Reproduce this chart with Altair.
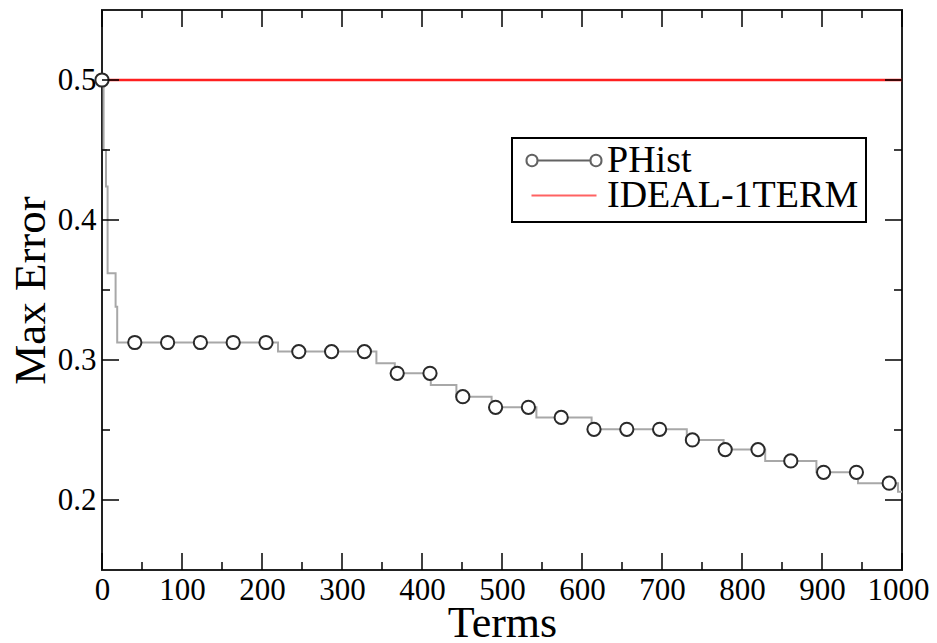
import altair as alt
import pandas as pd

FONT = "Liberation Serif"

# PHist step curve (change points, step-after)
step_terms = [0, 2, 5, 7, 17, 19, 220, 343, 366, 411, 443, 487, 543, 612, 731, 777, 829, 893, 945, 995, 1000]
step_values = [0.5, 0.45, 0.424, 0.362, 0.338, 0.3125, 0.306, 0.2976, 0.2905, 0.2821, 0.2738, 0.2662,
               0.259, 0.2505, 0.2429, 0.236, 0.2279, 0.2198, 0.212, 0.2059, 0.2059]

# PHist markers
marker_terms = [0, 41, 82, 123, 164, 205, 246, 287, 328, 369, 410, 451, 492, 533, 574, 615, 656, 697,
                738, 779, 820, 861, 902, 943, 984]
marker_values = [0.5, 0.3125, 0.3125, 0.3125, 0.3125, 0.3125, 0.306, 0.306, 0.306, 0.2905, 0.2905, 0.2738,
                 0.2662, 0.2662, 0.259, 0.2505, 0.2505, 0.2505, 0.2429, 0.236, 0.236, 0.2279, 0.2198,
                 0.2198, 0.212]

# IDEAL-1TERM
ideal_terms = [0, 1000]
ideal_values = [0.5, 0.5]

series_names = ["PHist", "IDEAL-1TERM"]
series_colors = ["#222222", "#ff2020"]

x_major = [0, 100, 200, 300, 400, 500, 600, 700, 800, 900, 1000]
x_minor = [50, 150, 250, 350, 450, 550, 650, 750, 850, 950]
y_major = [0.2, 0.3, 0.4, 0.5]
y_minor = [0.25, 0.35, 0.45]

W, H = 800, 560
MAJ, MIN = 17, 8

df_step = pd.DataFrame({"term": step_terms, "value": step_values})
df_mark = pd.DataFrame({"term": marker_terms, "value": marker_values})
df_ideal = pd.DataFrame({"term": ideal_terms, "value": ideal_values})
df_leg = pd.DataFrame({"series": series_names})
df_xmaj = pd.DataFrame({"term": x_major})
df_xmin = pd.DataFrame({"term": x_minor})
df_ymaj = pd.DataFrame({"value": y_major})
df_ymin = pd.DataFrame({"value": y_minor})

xs = alt.Scale(domain=[0, 1000], nice=False, zero=False)
ys = alt.Scale(domain=[0.15, 0.55], nice=False, zero=False)

xaxis = alt.Axis(title="Terms", values=x_major, format="d", tickSize=0, domain=False, grid=False,
                 labelFont=FONT, labelFontSize=31, labelColor="black", labelPadding=5,
                 labelFlush=False, labelOverlap=False,
                 labelOffset={"condition": {"test": "datum.value == 1000", "value": -4}, "value": 0},
                 titleFont=FONT, titleFontSize=44, titleFontWeight="normal", titleColor="black",
                 titlePadding=-4)
yaxis = alt.Axis(title="Max Error", values=y_major, format=".1f", tickSize=0, domain=False, grid=False,
                 labelFont=FONT, labelFontSize=31, labelColor="black", labelPadding=6,
                 labelFlush=False, labelOverlap=False,
                 titleFont=FONT, titleFontSize=45, titleFontWeight="normal", titleColor="black",
                 titlePadding=4)

X = alt.X("term:Q", scale=xs, axis=xaxis)
Y = alt.Y("value:Q", scale=ys, axis=yaxis)

ideal = alt.Chart(df_ideal).mark_line(color=series_colors[1], strokeWidth=2.5).encode(x=X, y=Y)
step = alt.Chart(df_step).mark_line(interpolate="step-after", color="#a8a8a8", strokeWidth=2).encode(x=X, y=Y)
marks = alt.Chart(df_mark).mark_point(shape="circle", fill="white", stroke="#2a2a2a", strokeWidth=2,
                                      size=175, opacity=1).encode(x=X, y=Y)

tick_style = dict(color="black", strokeWidth=1.5)
xt_bot_maj = alt.Chart(df_xmaj).mark_rule(**tick_style).encode(x=X, y=alt.value(H), y2=alt.value(H - MAJ))
xt_top_maj = alt.Chart(df_xmaj).mark_rule(**tick_style).encode(x=X, y=alt.value(0), y2=alt.value(MAJ))
xt_bot_min = alt.Chart(df_xmin).mark_rule(**tick_style).encode(x=X, y=alt.value(H), y2=alt.value(H - MIN))
xt_top_min = alt.Chart(df_xmin).mark_rule(**tick_style).encode(x=X, y=alt.value(0), y2=alt.value(MIN))
yt_l_maj = alt.Chart(df_ymaj).mark_rule(**tick_style).encode(y=Y, x=alt.value(0), x2=alt.value(MAJ))
yt_r_maj = alt.Chart(df_ymaj).mark_rule(**tick_style).encode(y=Y, x=alt.value(W), x2=alt.value(W - MAJ))
yt_l_min = alt.Chart(df_ymin).mark_rule(**tick_style).encode(y=Y, x=alt.value(0), x2=alt.value(MIN))
yt_r_min = alt.Chart(df_ymin).mark_rule(**tick_style).encode(y=Y, x=alt.value(W), x2=alt.value(W - MIN))

# legend symbols (custom paths in unit coordinates)
path_phist = ("M-1.767,0L1.767,0 "
              "M-2.5,0A0.367,0.367 0 1,0 -1.767,0A0.367,0.367 0 1,0 -2.5,0Z "
              "M1.767,0A0.367,0.367 0 1,0 2.5,0A0.367,0.367 0 1,0 1.767,0Z")
path_ideal = "M-2.167,0L2.167,0"

legend = alt.Legend(title=None, orient="none", legendX=410, legendY=128, strokeColor="black",
                    fillColor="white", padding=7, labelFont=FONT, labelFontSize=38, labelColor="black",
                    labelOffset=24, symbolOffset=26, rowPadding=-14, clipHeight=31,
                    symbolStrokeWidth=2, labelLimit=500, symbolSize=900)
dummy = alt.Chart(df_leg).mark_point(filled=False, size=900, strokeWidth=2).encode(
    color=alt.Color("series:N", scale=alt.Scale(domain=series_names, range=series_colors), legend=legend),
    shape=alt.Shape("series:N", scale=alt.Scale(domain=series_names, range=[path_phist, path_ideal]),
                    legend=legend),
).transform_filter("datum.series == 'none'")

chart = alt.layer(
    ideal, step, marks,
    xt_bot_maj, xt_top_maj, xt_bot_min, xt_top_min,
    yt_l_maj, yt_r_maj, yt_l_min, yt_r_min,
    dummy,
).properties(
    width=W, height=H,
    autosize=alt.AutoSizeParams(type="none"),
    padding={"left": 94, "top": 2, "right": 27, "bottom": 73},
).configure_view(stroke="#222222", strokeWidth=2).configure_legend(strokeWidth=2)

chart.save("out.html", embed_options={"renderer": "svg", "actions": False})
